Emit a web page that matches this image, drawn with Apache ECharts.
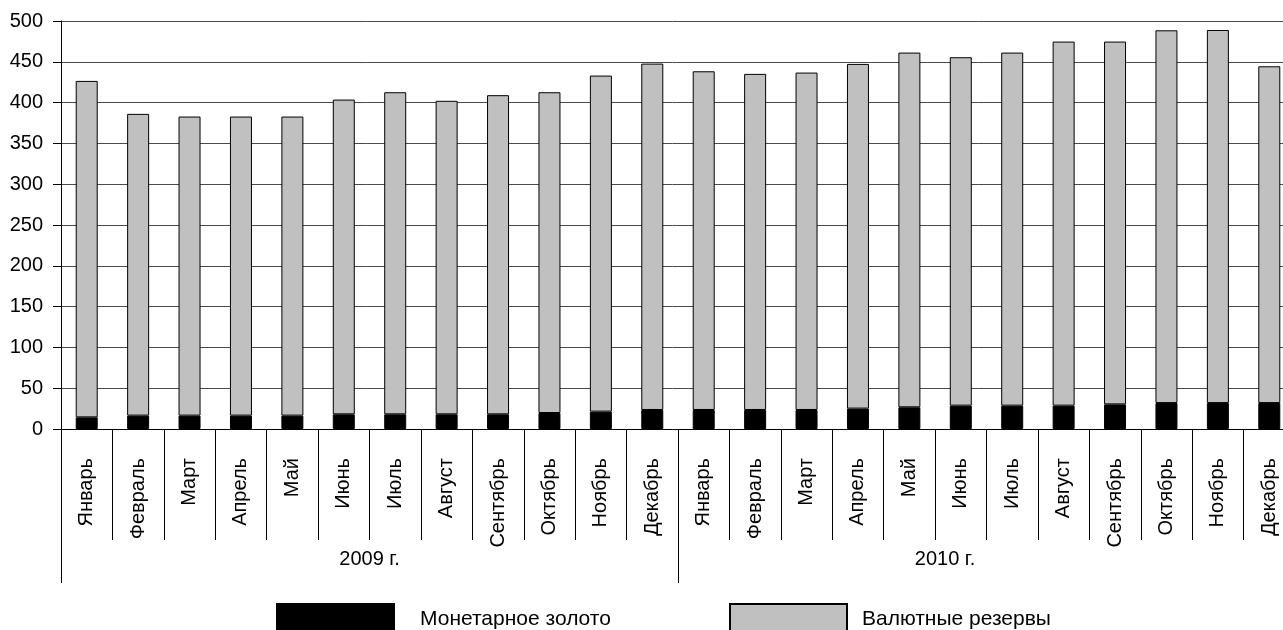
<!DOCTYPE html>
<html>
<head>
<meta charset="utf-8">
<script src="https://cdn.jsdelivr.net/npm/echarts@6/dist/echarts.min.js"></script>
<style>
html,body{margin:0;padding:0;background:#fff;}
#chart{width:1283px;height:630px;}
</style>
</head>
<body>
<div id="chart"></div>
<script>
const months = ['Январь','Февраль','Март','Апрель','Май','Июнь','Июль','Август','Сентябрь','Октябрь','Ноябрь','Декабрь'];
const years = ['2009 г.','2010 г.'];
const categories = months.concat(months);
const goldName = 'Монетарное золото';
const reservesName = 'Валютные резервы';
const gold = [14.3,16.4,16.4,16.4,16.4,18.0,18.0,18.0,18.0,19.6,21.3,23.3,
              23.3,23.3,23.3,25.0,26.6,28.6,28.6,28.6,30.2,31.8,31.8,31.8];
const reserves = [412.3,369.8,366.5,366.5,366.5,385.7,394.7,384.2,391.1,393.1,411.8,424.5,
                  415.1,411.9,413.5,422.4,434.7,427.0,432.7,446.2,444.6,456.8,457.2,412.7];

const FONT = '"Liberation Sans", Arial, sans-serif';
const chart = echarts.init(document.getElementById('chart'), null, {renderer:'canvas'});
chart.setOption({
  animation:false,
  backgroundColor:'#ffffff',
  textStyle:{fontFamily:FONT,color:'#000'},
  grid:{left:61, top:21, width:1234, height:408, containLabel:false, outerBoundsMode:'none'},
  legend:[
    {data:[goldName], left:276, top:603, padding:0, itemWidth:117, itemHeight:30, itemGap:0,
     icon:'rect', textStyle:{fontFamily:FONT,fontSize:21,color:'#000',padding:[0,0,0,21]}},
    {data:[reservesName], left:729, top:603, padding:0, itemWidth:117, itemHeight:30, itemGap:0,
     icon:'rect', textStyle:{fontFamily:FONT,fontSize:21,color:'#000',padding:[0,0,0,10]}}
  ],
  xAxis:[
    {type:'category', data:categories, position:'bottom',
     axisLine:{show:true, lineStyle:{color:'#000',width:1}},
     axisTick:{show:true, length:111, interval:0, lineStyle:{color:'#000',width:1}},
     axisLabel:{rotate:90, margin:29, interval:0, fontSize:20, fontFamily:FONT, color:'#000'}},
    {type:'category', data:years, position:'bottom',
     axisLine:{show:false},
     axisTick:{show:true, length:154, interval:0, lineStyle:{color:'#000',width:1}},
     axisLabel:{margin:120, interval:0, fontSize:20, fontFamily:FONT, color:'#000',
       formatter:function(v,i){ return i===1 ? '{s|'+v+'}' : v; },
       rich:{s:{fontSize:20,fontFamily:FONT,color:'#000',padding:[0,83,0,0]}}}}
  ],
  yAxis:{type:'value', min:0, max:500, interval:50,
    axisLine:{show:true, lineStyle:{color:'#000',width:1}},
    axisTick:{show:true, length:8, lineStyle:{color:'#000',width:1}},
    axisLabel:{margin:18, fontSize:20, fontFamily:FONT, color:'#000'},
    splitLine:{lineStyle:{color:'#4a4a4a',width:1}}},
  series:[
    {name:goldName, type:'bar', stack:'total', data:gold, barWidth:22, xAxisIndex:0,
     itemStyle:{color:'#000000', borderColor:'#000', borderWidth:1}},
    {name:reservesName, type:'bar', stack:'total', data:reserves, barWidth:22, xAxisIndex:0,
     itemStyle:{color:'#c0c0c0', borderColor:'#000', borderWidth:1}}
  ]
});
</script>
</body>
</html>
